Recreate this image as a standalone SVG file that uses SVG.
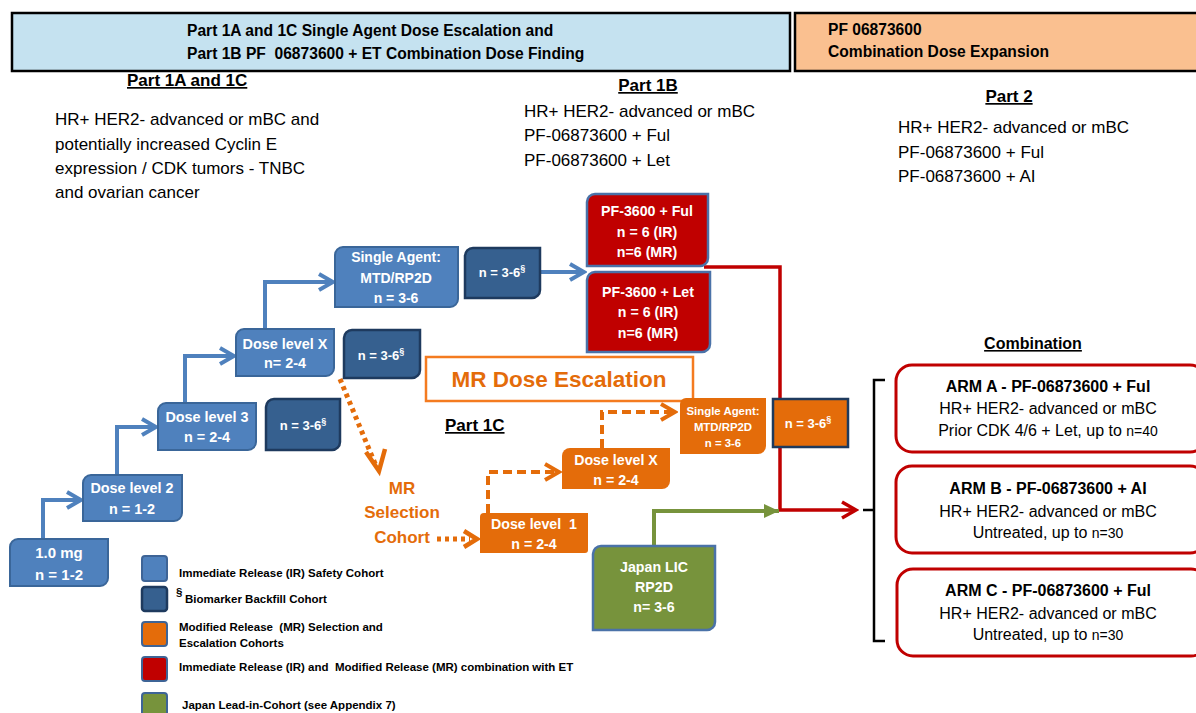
<svg xmlns="http://www.w3.org/2000/svg" width="1196" height="713" viewBox="0 0 1196 713">
<style>
text{font-family:"Liberation Sans",Arial,sans-serif;white-space:pre}
.b{font-weight:bold}
.w{fill:#fff;font-weight:bold;text-anchor:middle}
.ir{fill:#4F81BD;stroke:#3A6699;stroke-width:2}
.bf{fill:#36608F;stroke:#1E3A5E;stroke-width:2.5}
.mr{fill:#E46C0A}
.et{fill:#C00000;stroke:#4A72A8;stroke-width:2.5}
.jp{fill:#77933C;stroke:#4A72A8;stroke-width:2.5}
.arm{fill:#fff;stroke:#C00000;stroke-width:3}
.ot{fill:#E46C0A;font-weight:bold;text-anchor:middle}
.bl{fill:none;stroke:#4F81BD;stroke-width:4}
.rd{fill:none;stroke:#C00000;stroke-width:3.5}
.gr{fill:none;stroke:#77933C;stroke-width:4}
.da{fill:none;stroke:#E46C0A;stroke-width:4;stroke-dasharray:9 5}
.dt{fill:none;stroke:#E46C0A;stroke-width:5;stroke-dasharray:4 4}
.lg{font-size:11.5px;font-weight:bold}
.at{font-size:16px;text-anchor:middle}
</style>
<defs>
<marker id="ab" markerUnits="userSpaceOnUse" markerWidth="22" markerHeight="22" viewBox="0 0 22 22" refX="19" refY="11" orient="auto"><path d="M5,3 L19,11 L5,19" fill="none" stroke="#4F81BD" stroke-width="4"/></marker>
<marker id="ar" markerUnits="userSpaceOnUse" markerWidth="22" markerHeight="22" viewBox="0 0 22 22" refX="19" refY="11" orient="auto"><path d="M5,3 L19,11 L5,19" fill="none" stroke="#C00000" stroke-width="3.5"/></marker>
<marker id="ag" markerUnits="userSpaceOnUse" markerWidth="22" markerHeight="22" viewBox="0 0 22 22" refX="19" refY="11" orient="auto"><path d="M4,4 L19,11 L4,18 Z" fill="#77933C"/></marker>
<marker id="ao" markerUnits="userSpaceOnUse" markerWidth="22" markerHeight="22" viewBox="0 0 22 22" refX="19" refY="11" orient="auto"><path d="M5,3 L19,11 L5,19" fill="none" stroke="#E46C0A" stroke-width="4"/></marker>
</defs>
<rect width="1196" height="713" fill="#fff"/>

<g id="header-left">
<rect x="12" y="13" width="778" height="58" fill="#C5E2F0" stroke="#000" stroke-width="2.5"/>
<text x="187" y="36" class="b" font-size="15.6">Part 1A and 1C Single Agent Dose Escalation and</text>
<text x="187" y="59" class="b" font-size="15.6">Part 1B PF  06873600 + ET Combination Dose Finding</text>
</g>
<g id="header-right">
<rect x="795" y="13" width="410" height="58" fill="#FAC090" stroke="#000" stroke-width="2.5"/>
<text x="828" y="35" class="b" font-size="15.6">PF 06873600</text>
<text x="828" y="57" class="b" font-size="15.6">Combination Dose Expansion</text>
</g>

<g id="part1a-text">
<text x="127" y="86" class="b" font-size="17" text-decoration="underline">Part 1A and 1C</text>
<text font-size="17"><tspan x="55" y="125">HR+ HER2- advanced or mBC and</tspan><tspan x="55" y="150">potentially increased Cyclin E</tspan><tspan x="55" y="174">expression / CDK tumors - TNBC</tspan><tspan x="55" y="198">and ovarian cancer</tspan></text>
</g>
<g id="part1b-text">
<text x="648" y="91" class="b" font-size="17" text-anchor="middle" text-decoration="underline">Part 1B</text>
<text font-size="17"><tspan x="524" y="117">HR+ HER2- advanced or mBC</tspan><tspan x="524" y="141">PF-06873600 + Ful</tspan><tspan x="524" y="166">PF-06873600 + Let</tspan></text>
</g>
<g id="part2-text">
<text x="1009" y="102" class="b" font-size="17" text-anchor="middle" text-decoration="underline">Part 2</text>
<text font-size="17"><tspan x="898" y="133">HR+ HER2- advanced or mBC</tspan><tspan x="898" y="158">PF-06873600 + Ful</tspan><tspan x="898" y="182">PF-06873600 + AI</tspan></text>
</g>

<g id="connectors">
<path class="bl" d="M43,538 V500 H81" marker-end="url(#ab)"/>
<path class="bl" d="M117,474 V427 H156" marker-end="url(#ab)"/>
<path class="bl" d="M185,403 V356 H234" marker-end="url(#ab)"/>
<path class="bl" d="M265,329 V282 H333" marker-end="url(#ab)"/>
<path class="bl" d="M540,272 H584" marker-end="url(#ab)"/>
<path class="rd" d="M704,267 H780 V510 H856" marker-end="url(#ar)"/>
<path class="gr" d="M654,546 V511 H779" marker-end="url(#ag)"/>
<path class="da" d="M488,513 V472 H559" marker-end="url(#ao)"/>
<path class="da" d="M602,448 V412 H675" marker-end="url(#ao)"/>
<path class="dt" d="M340,379 L376,466"/>
<path d="M366,452 L379,471 L385,449" fill="none" stroke="#E46C0A" stroke-width="4.5"/>
<path class="dt" d="M437,539 H470"/>
<path d="M464,531 L477,539 L464,547" fill="none" stroke="#E46C0A" stroke-width="4.5"/>
<path d="M885,380 H874 V641 H885 M863,510 H874" fill="none" stroke="#000" stroke-width="2.5"/>
</g>

<g id="n-1mg">
<path class="ir" d="M18,539 H108 V578 A8 8 0 0 1 100,586 H10 V547 A8 8 0 0 1 18,539Z"/>
<text class="w" x="59" y="558" font-size="15">1.0 mg</text>
<text class="w" x="59" y="580" font-size="15">n = 1-2</text>
</g>
<g id="n-dl2">
<path class="ir" d="M91,475 H182 V513 A8 8 0 0 1 174,521 H83 V483 A8 8 0 0 1 91,475Z"/>
<text class="w" x="132" y="493" font-size="14.4">Dose level 2</text>
<text class="w" x="132" y="514" font-size="14.4">n = 1-2</text>
</g>
<g id="n-dl3">
<path class="ir" d="M166,403 H256 V442 A8 8 0 0 1 248,450 H158 V411 A8 8 0 0 1 166,403Z"/>
<text class="w" x="207" y="422" font-size="14.4">Dose level 3</text>
<text class="w" x="207" y="442" font-size="14.4">n = 2-4</text>
</g>
<g id="n-dlx">
<path class="ir" d="M244,329 H334 V368 A8 8 0 0 1 326,376 H236 V337 A8 8 0 0 1 244,329Z"/>
<text class="w" x="285" y="349" font-size="14.4">Dose level X</text>
<text class="w" x="285" y="368" font-size="14.4">n= 2-4</text>
</g>
<g id="n-sa">
<path class="ir" d="M343,247 H458 V299 A8 8 0 0 1 450,307 H335 V255 A8 8 0 0 1 343,247Z"/>
<text class="w" x="396" y="262" font-size="14">Single Agent:</text>
<text class="w" x="396" y="283" font-size="14">MTD/RP2D</text>
<text class="w" x="396" y="303" font-size="14">n = 3-6</text>
</g>
<g id="n-bf1">
<path class="bf" d="M274,399 H340 V442 A8 8 0 0 1 332,450 H266 V407 A8 8 0 0 1 274,399Z"/>
<text class="w" x="303" y="430" font-size="13">n = 3-6<tspan font-size="9" dy="-6">§</tspan></text>
</g>
<g id="n-bf2">
<path class="bf" d="M352,330 H420 V370 A8 8 0 0 1 412,378 H344 V338 A8 8 0 0 1 352,330Z"/>
<text class="w" x="381" y="360" font-size="13">n = 3-6<tspan font-size="9" dy="-6">§</tspan></text>
</g>
<g id="n-bf3">
<path class="bf" d="M473,248 H540 V290 A8 8 0 0 1 532,298 H465 V256 A8 8 0 0 1 473,248Z"/>
<text class="w" x="502" y="277" font-size="13">n = 3-6<tspan font-size="9" dy="-6">§</tspan></text>
</g>
<g id="n-ful">
<path class="et" d="M595,194 H708 V258 A8 8 0 0 1 700,266 H587 V202 A8 8 0 0 1 595,194Z"/>
<text class="w" x="647" y="216" font-size="14.2">PF-3600 + Ful</text>
<text class="w" x="647" y="237" font-size="14.2">n = 6 (IR)</text>
<text class="w" x="647" y="257" font-size="14.2">n=6 (MR)</text>
</g>
<g id="n-let">
<path class="et" d="M595,272 H710 V344 A8 8 0 0 1 702,352 H587 V280 A8 8 0 0 1 595,272Z"/>
<text class="w" x="648" y="297" font-size="14.2">PF-3600 + Let</text>
<text class="w" x="648" y="317" font-size="14.2">n = 6 (IR)</text>
<text class="w" x="648" y="338" font-size="14.2">n=6 (MR)</text>
</g>

<g id="n-mr-title">
<rect x="426" y="357" width="267" height="44" fill="#fff" stroke="#F47B20" stroke-width="2.5"/>
<text class="ot" x="559" y="387" font-size="22.5">MR Dose Escalation</text>
</g>
<g id="part1c-label">
<text x="445" y="431" class="b" font-size="17" text-decoration="underline">Part 1C</text>
</g>
<g id="n-mr-sel">
<text class="ot" x="402" y="494" font-size="17">MR</text>
<text class="ot" x="402" y="518" font-size="17">Selection</text>
<text class="ot" x="402" y="543" font-size="17">Cohort</text>
</g>
<g id="n-mr-dl1">
<path class="mr" d="M484,513 H588 V550 A3 3 0 0 1 585,553 H480 V517 A4 4 0 0 1 484,513Z"/>
<text class="w" x="534" y="529" font-size="14.2">Dose level  1</text>
<text class="w" x="534" y="549" font-size="14.2">n = 2-4</text>
</g>
<g id="n-mr-dlx">
<path class="mr" d="M570,448 H670 V481 A8 8 0 0 1 662,489 H562 V456 A8 8 0 0 1 570,448Z"/>
<text class="w" x="616" y="465" font-size="14.2">Dose level X</text>
<text class="w" x="616" y="485" font-size="14.2">n = 2-4</text>
</g>
<g id="n-mr-sa">
<path class="mr" d="M686,398 H766 V446 A8 8 0 0 1 758,454 H680 V404 A6 6 0 0 1 686,398Z"/>
<text class="w" x="723" y="415" font-size="11.4">Single Agent:</text>
<text class="w" x="723" y="431" font-size="11.4">MTD/RP2D</text>
<text class="w" x="723" y="447" font-size="11.4">n = 3-6</text>
</g>
<g id="n-mr-bf">
<rect x="773" y="399" width="75" height="48" fill="#E46C0A" stroke="#1E3A5E" stroke-width="2.5"/>
<text class="w" x="808" y="428" font-size="13">n = 3-6<tspan font-size="9" dy="-6">§</tspan></text>
</g>
<g id="n-japan">
<path class="jp" d="M601,546 H715 V622 A8 8 0 0 1 707,630 H593 V554 A8 8 0 0 1 601,546Z"/>
<text class="w" x="654" y="572" font-size="14.2">Japan LIC</text>
<text class="w" x="654" y="592" font-size="14.2">RP2D</text>
<text class="w" x="654" y="612" font-size="14.2">n= 3-6</text>
</g>

<g id="combination-label">
<text x="1033" y="349" class="b" font-size="16" text-anchor="middle" text-decoration="underline">Combination</text>
</g>
<g id="n-arm-a">
<rect class="arm" x="896" y="365" width="310" height="87" rx="16"/>
<text class="at b" x="1048" y="392">ARM A - PF-06873600 + Ful</text>
<text class="at" x="1048" y="414">HR+ HER2- advanced or mBC</text>
<text class="at" x="1048" y="436">Prior CDK 4/6 + Let, up to <tspan font-size="14">n=40</tspan></text>
</g>
<g id="n-arm-b">
<rect class="arm" x="896" y="466" width="310" height="87" rx="16"/>
<text class="at b" x="1048" y="494">ARM B - PF-06873600 + AI</text>
<text class="at" x="1048" y="517">HR+ HER2- advanced or mBC</text>
<text class="at" x="1048" y="538">Untreated, up to <tspan font-size="14">n=30</tspan></text>
</g>
<g id="n-arm-c">
<rect class="arm" x="897" y="569" width="310" height="87" rx="16"/>
<text class="at b" x="1048" y="596">ARM C - PF-06873600 + Ful</text>
<text class="at" x="1048" y="619">HR+ HER2- advanced or mBC</text>
<text class="at" x="1048" y="640">Untreated, up to <tspan font-size="14">n=30</tspan></text>
</g>

<g id="legend">
<rect x="142" y="556" width="25" height="25" rx="3" fill="#4F81BD" stroke="#3E6496" stroke-width="2"/>
<rect x="142" y="587" width="25" height="24" rx="3" fill="#36608F" stroke="#1E3A5E" stroke-width="2.5"/>
<rect x="142" y="622" width="25" height="24" rx="3" fill="#E46C0A" stroke="#3E6496" stroke-width="2"/>
<rect x="142" y="657" width="25" height="24" rx="3" fill="#C00000" stroke="#3E6496" stroke-width="2"/>
<rect x="142" y="693" width="25" height="24" rx="3" fill="#77933C" stroke="#3E6496" stroke-width="2"/>
<text class="lg" x="179" y="577">Immediate Release (IR) Safety Cohort</text>
<text class="lg" x="176" y="596" font-size="10">§</text>
<text class="lg" x="185" y="603">Biomarker Backfill Cohort</text>
<text class="lg" x="179" y="631">Modified Release  (MR) Selection and</text>
<text class="lg" x="179" y="647">Escalation Cohorts</text>
<text class="lg" x="179" y="671">Immediate Release (IR) and  Modified Release (MR) combination with ET</text>
<text class="lg" x="182" y="709">Japan Lead-in-Cohort (see Appendix 7)</text>
</g>
</svg>
